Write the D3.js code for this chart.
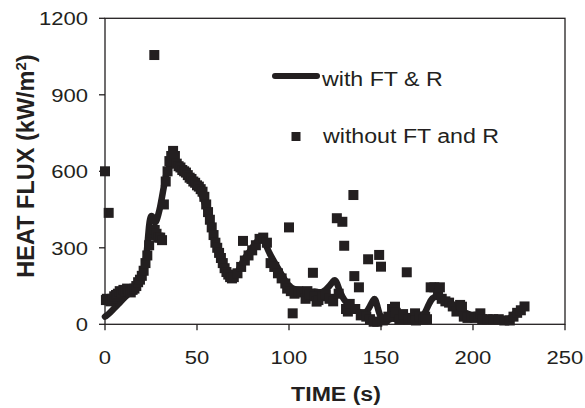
<!DOCTYPE html>
<html>
<head>
<meta charset="utf-8">
<script src="https://cdn.jsdelivr.net/npm/d3@7"></script>
<style>
  body { margin: 0; background: #fff; }
  text { font-family: "Liberation Sans", Arial, sans-serif; fill: #231f20; }
</style>
</head>
<body>
<svg id="chart"></svg>
<script>
// chart values: [time (s), heat flux (kW/m2)]
const withFT = [
  [0,30],[2,40],[4,55],[6,70],[8,85],[10,100],[12,115],[14,125],[16,140],[18,160],[20,190],
  [22,240],[23,300],[24,400],[25,430],[26,420],[27,395],[28,405],[29,430],[30,460],[31,500],
  [32,540],[33,580],[34,605],[35,620],[37,630],[40,620],[42,610],[44,595],[46,580],[48,565],
  [50,545],[52,520],[54,480],[56,430],[58,380],[60,320],[62,275],[64,240],[66,215],[68,195],
  [70,185],[72,200],[74,235],[76,260],[78,280],[80,300],[82,320],[84,335],[86,340],[88,300],
  [90,270],[92,245],[94,220],[96,195],[98,170],[100,150],[102,140],[104,135],[106,135],[108,130],
  [110,130],[112,125],[114,130],[116,125],[118,125],[120,135],[122,150],[124,170],[125,175],
  [126,165],[128,120],[130,95],[132,80],[134,60],[136,55],[138,50],[140,40],[142,45],[144,70],
  [146,100],[147,100],[148,70],[150,20],[152,15],[154,15],[156,25],[158,20],[160,15],[162,25],
  [164,20],[166,15],[168,20],[170,15],[172,25],[174,45],[176,80],[178,105],[180,110],[182,105],
  [184,95],[186,90],[188,80],[190,65],[192,55],[194,50],[196,45],[198,40],[200,30],[202,25],
  [204,20],[206,20],[208,20],[210,20],[212,20],[214,15],[216,15],[218,15],[220,20],[222,40],
  [224,50],[226,60],[228,70]
];

const withoutFT = [
  [0,600],[0.5,95],[1,100],[2,437],[2,95],[3,90],[4,100],[5,110],[6,115],[7,120],[8,130],
  [9,125],[10,135],[11,130],[12,140],[13,130],[14,125],[15,135],[16,140],[17,150],[18,165],
  [19,175],[20,190],[21,210],[22,240],[23,270],[24,310],[25,350],[26,360],[26.8,1056],[27,370],
  [28,355],[29,340],[30,340],[31,330],[32,470],[33,560],[34,600],[35,640],[36,660],[37,680],
  [38,660],[39,630],[40,620],[41,615],[42,605],[43,600],[44,595],[45,585],[46,575],[47,570],
  [48,560],[49,555],[50,545],[51,540],[52,530],[53,520],[54,500],[55,470],[56,440],[57,410],
  [58,380],[59,350],[60,320],[61,300],[62,280],[63,260],[64,240],[65,220],[66,205],[67,195],
  [68,185],[69,180],[70,185],[72,200],[74,225],[75,327],[76,250],[78,270],[80,290],[82,310],
  [84,335],[86,340],[88,320],[90,240],[92,225],[94,200],[96,180],[98,160],[99,140],[100,380],
  [101,130],[102,43],[103,120],[105,130],[107,125],[109,100],[110,130],[111,115],[113,202],
  [114,110],[115,89],[116,95],[118,110],[120,115],[122,100],[124,90],[126,416],[127,120],
  [129,402],[130,308],[131,60],[132,50],[133,80],[135,507],[135.5,189],[136,60],[138,145],
  [139,35],[140,40],[142,30],[143,255],[144,20],[146,10],[148,10],[149,272],[150,226],[151,15],
  [152,20],[154,30],[156,60],[157.6,69],[158,45],[160,20],[162,40],[164,204],[165,20],[167,25],
  [168.5,43],[169,15],[171,30],[173,20],[174,30],[175,20],[177,145],[179,145],[181,120],
  [182,145],[183,100],[185,90],[187,85],[189,70],[191,50],[193,76],[194,69],[195,30],[197,25],
  [199,30],[201,25],[203,30],[204,43],[205,20],[208,20],[211,20],[214,20],[217,15],[220,15],
  [222,30],[224,45],[226,55],[228,70]
];

const xTicks = [0, 50, 100, 150, 200, 250];
const yTicks = [0, 300, 600, 900, 1200];
const seriesNames = ["with FT & R", "without FT and R"];

const width = 585, height = 408;
const ink = "#231f20";
const stretch = "scale(1.16,1)"; // text in the picture is a bit wide

const svg = d3.select("#chart").attr("width", width).attr("height", height);

const x = d3.scaleLinear().domain([0, 250]).range([105, 565]);
const y = d3.scaleLinear().domain([0, 1200]).range([324.3, 18.3]);

// frame
svg.append("rect")
  .attr("x", x(0)).attr("y", y(1200))
  .attr("width", x(250) - x(0)).attr("height", y(0) - y(1200))
  .attr("fill", "none").attr("stroke", ink).attr("stroke-width", 1.3);

// ticks
svg.append("g").selectAll("line").data(yTicks).enter().append("line")
  .attr("x1", x(0) - 6).attr("x2", x(0))
  .attr("y1", d => y(d)).attr("y2", d => y(d))
  .attr("stroke", ink).attr("stroke-width", 1.3);
svg.append("g").selectAll("line").data(xTicks).enter().append("line")
  .attr("x1", d => x(d)).attr("x2", d => x(d))
  .attr("y1", y(0)).attr("y2", y(0) + 6)
  .attr("stroke", ink).attr("stroke-width", 1.3);

// tick labels
svg.append("g").selectAll("text").data(yTicks).enter().append("text")
  .attr("transform", d => `translate(88,${y(d) + 6.8}) ${stretch}`)
  .attr("text-anchor", "end")
  .style("font-size", "19px")
  .text(d => d);
svg.append("g").selectAll("text").data(xTicks).enter().append("text")
  .attr("transform", d => `translate(${x(d)},364) ${stretch}`)
  .attr("text-anchor", "middle")
  .style("font-size", "19px")
  .text(d => d);

// axis titles
svg.append("text")
  .attr("transform", `translate(336,401) scale(1.1,1)`)
  .attr("text-anchor", "middle")
  .style("font-size", "21px").style("font-weight", "bold")
  .text("TIME (s)");

const yTitle = svg.append("text")
  .attr("transform", "translate(34,166) rotate(-90)")
  .attr("text-anchor", "middle")
  .style("font-size", "23.5px").style("font-weight", "bold");
yTitle.append("tspan").text("HEAT FLUX (kW/m");
yTitle.append("tspan").attr("dy", -8).style("font-size", "15px").text("2");
yTitle.append("tspan").attr("dy", 8).text(")");

// data
const line = d3.line()
  .x(d => x(d[0]))
  .y(d => y(d[1]))
  .curve(d3.curveBasis);

svg.append("path")
  .datum(withFT)
  .attr("d", line)
  .attr("fill", "none")
  .attr("stroke", ink)
  .attr("stroke-width", 6.5)
  .attr("stroke-linejoin", "round")
  .attr("stroke-linecap", "round");

const sq = 10;
svg.append("g").selectAll("rect").data(withoutFT).enter().append("rect")
  .attr("x", d => x(d[0]) - sq / 2)
  .attr("y", d => y(d[1]) - sq / 2)
  .attr("width", sq).attr("height", sq)
  .attr("fill", ink);

// legend
svg.append("line")
  .attr("x1", 275).attr("x2", 317).attr("y1", 76).attr("y2", 76)
  .attr("stroke", ink).attr("stroke-width", 6).attr("stroke-linecap", "round");
svg.append("text")
  .attr("transform", `translate(322,86) ${stretch}`)
  .style("font-size", "20px")
  .text(seriesNames[0]);
svg.append("rect")
  .attr("x", 291.5).attr("y", 132).attr("width", 9).attr("height", 9)
  .attr("fill", ink);
svg.append("text")
  .attr("transform", `translate(323,143) ${stretch}`)
  .style("font-size", "20px")
  .text(seriesNames[1]);
</script>
</body>
</html>
